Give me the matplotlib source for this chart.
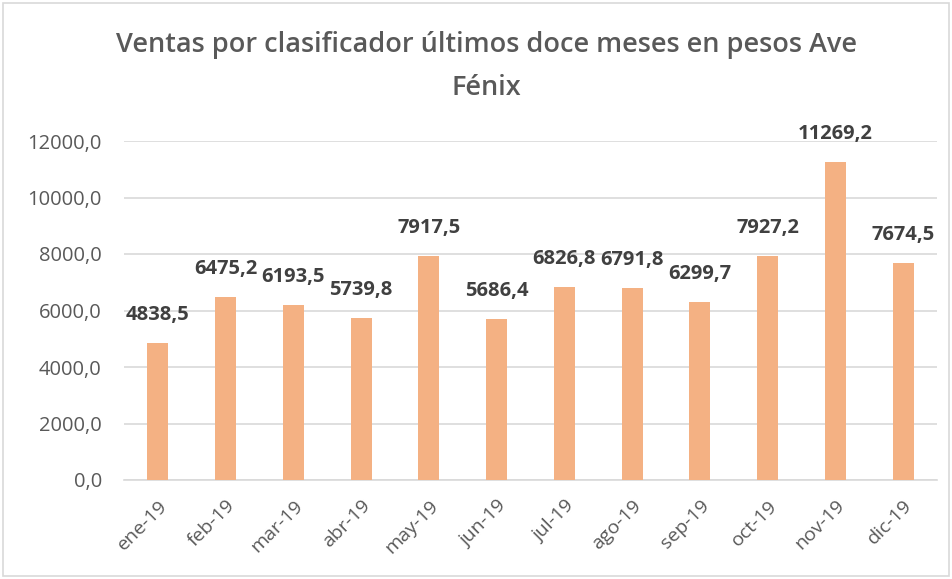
import numpy as np
import matplotlib.pyplot as plt
from matplotlib.patches import Rectangle

# Ventas mensuales Ave Fénix
meses = ['ene-19', 'feb-19', 'mar-19', 'abr-19', 'may-19', 'jun-19',
         'jul-19', 'ago-19', 'sep-19', 'oct-19', 'nov-19', 'dic-19']
ventas = [4838.5, 6475.2, 6193.5, 5739.8, 7917.5, 5686.4,
          6826.8, 6791.8, 6299.7, 7927.2, 11269.2, 7674.5]
yticks = [0, 2000, 4000, 6000, 8000, 10000, 12000]

def coma(v):
    return f'{v:.1f}'.replace('.', ',')

plt.rcParams['font.family'] = ['Open Sans', 'DejaVu Sans']

fig = plt.figure(figsize=(9.53, 5.79), dpi=100)
ax = fig.add_axes([124 / 953, 1 - 480 / 579, 813 / 953, 339 / 579])

x = np.arange(len(meses))
ax.bar(x, ventas, width=0.31, color='#F4B183', zorder=3)

for xi, v in zip(x, ventas):
    ax.annotate(coma(v), (xi, v), xytext=(0, 13), textcoords='offset points',
                ha='center', va='bottom', fontsize=14.5, fontweight='bold',
                color='#404040')

ax.set_xlim(-0.5, len(meses) - 0.5)
ax.set_ylim(0, 12000)
ax.set_yticks(yticks)
ax.set_yticklabels([coma(t) for t in yticks], fontsize=14.5, color='#595959')
ax.set_xticks(x)
ax.set_xticklabels(meses, rotation=45, ha='right', rotation_mode='anchor',
                   fontsize=14, color='#595959')
ax.tick_params(axis='y', length=0, pad=16)
ax.tick_params(axis='x', length=0, pad=12)
ax.yaxis.grid(True, color='#D9D9D9', linewidth=1.2, zorder=0)
for s in ['top', 'right', 'left']:
    ax.spines[s].set_visible(False)
ax.spines['bottom'].set_color('#D9D9D9')
ax.spines['bottom'].set_linewidth(1.2)

fig.text(0.51, 1 - 45 / 579, 'Ventas por clasificador últimos doce meses en pesos Ave',
         ha='center', va='center', fontsize=19.5, fontweight='semibold', color='#595959')
fig.text(0.51, 1 - 88 / 579, 'Fénix', ha='center', va='center',
         fontsize=19.5, fontweight='semibold', color='#595959')

fig.patches.append(Rectangle((3 / 953, 3 / 579), 946 / 953, 573 / 579,
                             transform=fig.transFigure, fill=False,
                             edgecolor='#D9D9D9', linewidth=1.2))

fig.savefig('out.png', dpi=100)
